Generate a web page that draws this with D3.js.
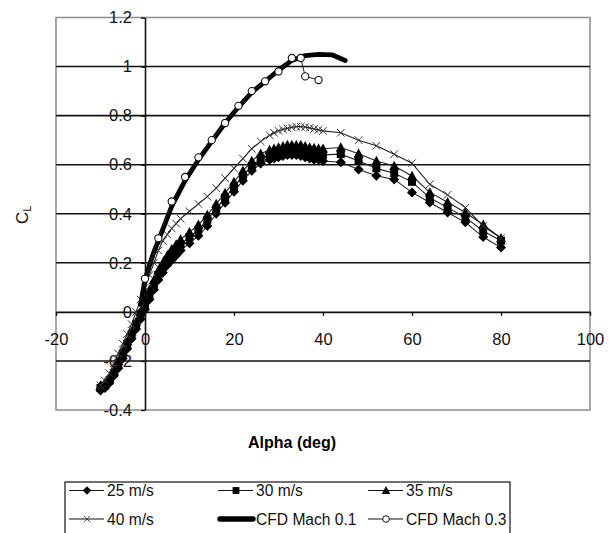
<!DOCTYPE html>
<html>
<head>
<meta charset="utf-8">
<script src="https://cdn.jsdelivr.net/npm/d3@7"></script>
<style>
  body { margin: 0; background: #fff; }
  svg { display: block; font-family: "Liberation Sans", Arial, sans-serif; }
</style>
</head>
<body>
<svg id="chart" width="614" height="533"></svg>
<script>
// angles de ensayo (compartidos por las 4 velocidades)
const alphaExp = [-10,-9,-8,-7,-6,-5,-4,-3,-2,-1,0,1,2,3,4,5,6,7,8,10,12,14,16,18,20,22,24,26,28,
  29,30,31,32,33,34,35,36,37,38,39,40,44,48,52,56,60,64,68,72,76,80];

const cl25 = [-0.32,-0.31,-0.29,-0.26,-0.23,-0.19,-0.15,-0.11,-0.07,-0.03,0.01,0.05,0.09,0.13,0.16,0.19,0.21,0.23,0.25,
  0.28,0.31,0.35,0.40,0.445,0.49,0.535,0.575,0.605,0.62,
  0.625,0.63,0.635,0.64,0.64,0.64,0.635,0.63,0.625,0.62,0.62,0.615,
  0.61,0.58,0.555,0.54,0.487,0.446,0.405,0.365,0.305,0.262];
const cl30 = [-0.31,-0.30,-0.28,-0.25,-0.21,-0.17,-0.13,-0.09,-0.05,-0.01,0.03,0.07,0.11,0.15,0.18,0.21,0.235,0.255,0.275,
  0.305,0.335,0.375,0.42,0.465,0.51,0.555,0.595,0.625,0.64,
  0.645,0.65,0.655,0.66,0.66,0.66,0.66,0.655,0.65,0.645,0.64,0.64,
  0.643,0.615,0.585,0.565,0.53,0.465,0.425,0.385,0.33,0.29];
const cl35 = [-0.30,-0.29,-0.27,-0.24,-0.20,-0.16,-0.12,-0.08,-0.04,0.00,0.05,0.09,0.13,0.17,0.20,0.23,0.255,0.275,0.295,
  0.325,0.355,0.395,0.44,0.485,0.53,0.575,0.615,0.645,0.66,
  0.665,0.67,0.675,0.68,0.68,0.68,0.68,0.675,0.67,0.668,0.666,0.665,
  0.67,0.645,0.615,0.595,0.554,0.487,0.447,0.405,0.355,0.30];
const cl40 = [-0.30,-0.28,-0.25,-0.21,-0.17,-0.13,-0.09,-0.05,0.00,0.05,0.10,0.15,0.20,0.25,0.29,0.315,0.34,0.36,0.38,
  0.41,0.44,0.47,0.505,0.545,0.585,0.625,0.665,0.695,0.72,
  0.73,0.738,0.744,0.748,0.752,0.755,0.755,0.753,0.75,0.746,0.742,0.738,
  0.73,0.70,0.677,0.643,0.606,0.52,0.477,0.425,0.35,0.30];

// CFD
const alphaM01 = [-1,0,1,2,3,6,9,12,15,18,21,24,27,30,33,36,39,42,45];
const clM01 = [0.03,0.13,0.19,0.245,0.29,0.43,0.535,0.62,0.695,0.77,0.835,0.895,0.94,0.985,1.025,1.045,1.05,1.048,1.025];
const alphaM03 = [0,3,6,9,12,15,18,21,24,27,30,33,35,36,39];
const clM03 = [0.135,0.30,0.45,0.55,0.63,0.70,0.77,0.84,0.90,0.94,0.98,1.035,1.035,0.96,0.945];

const xTicks = [-20,0,20,40,60,80,100];
const yTicks = [-0.4,-0.2,0,0.2,0.4,0.6,0.8,1,1.2];
const seriesNames = ["25 m/s","30 m/s","35 m/s","40 m/s","CFD Mach 0.1","CFD Mach 0.3"];

const svg = d3.select("#chart");
const x = d3.scaleLinear().domain([-20, 100]).range([56, 590]);
const y = d3.scaleLinear().domain([-0.4, 1.2]).range([410, 17.5]);

// marcadores tipo Excel
const marcas = {
  diamond: "M0,-5L5,0L0,5L-5,0Z",
  square: "M-4,-4H4V4H-4Z",
  triangle: "M0,-5.2L5,4H-5Z",
  cross: "M-3.8,-3.8L3.8,3.8M-3.8,3.8L3.8,-3.8"
};

// borde del area de trazado
svg.append("rect")
  .attr("x", x(-20)).attr("y", y(1.2))
  .attr("width", x(100) - x(-20)).attr("height", y(-0.4) - y(1.2))
  .attr("fill", "none").attr("stroke", "#8c8c8c").attr("stroke-width", 1.5);

// lineas de division
svg.append("g").selectAll("line")
  .data(yTicks.filter(d => d > -0.4 && d < 1.2 && d !== 0))
  .enter().append("line")
  .attr("x1", x(-20)).attr("x2", x(100))
  .attr("y1", d => y(d)).attr("y2", d => y(d))
  .attr("stroke", "#111").attr("stroke-width", 1.6);

const fmt = d => String(+d.toFixed(1));

const ejeY = svg.append("g")
  .attr("transform", `translate(${x(0)},0)`)
  .call(d3.axisLeft(y).tickValues(yTicks).tickFormat(fmt).tickSize(4).tickSizeOuter(0).tickPadding(9));
const ejeX = svg.append("g")
  .attr("transform", `translate(0,${y(0)})`)
  .call(d3.axisBottom(x).tickValues(xTicks).tickFormat(fmt).tickSize(4).tickSizeOuter(0).tickPadding(17));
[ejeY, ejeX].forEach(g => {
  g.select(".domain").attr("stroke", "#111").attr("stroke-width", 1.6);
  g.selectAll(".tick line").attr("stroke", "#111").attr("stroke-width", 1.4);
  g.selectAll(".tick text").attr("fill", "#111")
    .style("font-size", "16.5px").style("font-family", "'Liberation Sans', Arial, sans-serif");
});

// titulos de ejes
svg.append("text")
  .attr("x", 292).attr("y", 448)
  .attr("text-anchor", "middle")
  .style("font-size", "16px").style("font-weight", "bold")
  .text("Alpha (deg)");
const tituloY = svg.append("text")
  .attr("transform", "translate(28,224) rotate(-90)")
  .style("font-size", "17px").attr("fill", "#111");
tituloY.append("tspan").text("C");
tituloY.append("tspan").attr("dy", 3).style("font-size", "11px").text("L");

// series
const linea = d3.line().x(d => x(d[0])).y(d => y(d[1]));
const zip = (a, b) => a.map((v, i) => [v, b[i]]);

const exp = [
  { nombre: seriesNames[0], datos: zip(alphaExp, cl25), marca: "diamond" },
  { nombre: seriesNames[1], datos: zip(alphaExp, cl30), marca: "square" },
  { nombre: seriesNames[2], datos: zip(alphaExp, cl35), marca: "triangle" },
  { nombre: seriesNames[3], datos: zip(alphaExp, cl40), marca: "cross" }
];

exp.forEach(s => {
  const g = svg.append("g");
  g.append("path")
    .attr("d", linea(s.datos))
    .attr("fill", "none").attr("stroke", "#222").attr("stroke-width", 1.1);
  g.selectAll("path.m")
    .data(s.datos)
    .enter().append("path")
    .attr("class", "m")
    .attr("transform", d => `translate(${x(d[0])},${y(d[1])})`)
    .attr("d", marcas[s.marca])
    .attr("fill", s.marca === "cross" ? "none" : "#000")
    .attr("stroke", s.marca === "cross" ? "#333" : "none")
    .attr("stroke-width", 1);
});

svg.append("path")
  .attr("d", linea(zip(alphaM01, clM01)))
  .attr("fill", "none").attr("stroke", "#000").attr("stroke-width", 4.8)
  .attr("stroke-linecap", "round").attr("stroke-linejoin", "round");

const m03 = zip(alphaM03, clM03);
svg.append("path")
  .attr("d", linea(m03))
  .attr("fill", "none").attr("stroke", "#222").attr("stroke-width", 1);
svg.append("g").selectAll("circle")
  .data(m03)
  .enter().append("circle")
  .attr("cx", d => x(d[0])).attr("cy", d => y(d[1])).attr("r", 3.6)
  .attr("fill", "#fff").attr("stroke", "#111").attr("stroke-width", 1.1);

// leyenda
const ley = svg.append("g");
ley.append("rect")
  .attr("x", 65).attr("y", 482).attr("width", 445).attr("height", 70)
  .attr("fill", "#fff").attr("stroke", "#111").attr("stroke-width", 1.2);

const colX = [69, 218, 368];
const filaY = [490.5, 519];
const items = [
  { marca: "diamond" }, { marca: "square" }, { marca: "triangle" },
  { marca: "cross" }, { grueso: true }, { circulo: true }
];
items.forEach((it, i) => {
  const cx = colX[i % 3], cy = filaY[Math.floor(i / 3)];
  const g = ley.append("g").attr("transform", `translate(${cx},${cy})`);
  if (it.grueso) {
    g.append("line").attr("x1", 2).attr("x2", 35)
      .attr("stroke", "#000").attr("stroke-width", 5.5).attr("stroke-linecap", "round");
  } else {
    g.append("line").attr("x1", 0).attr("x2", 35)
      .attr("stroke", "#111").attr("stroke-width", 1.2);
  }
  if (it.marca) {
    g.append("path").attr("transform", "translate(18,0) scale(0.85)")
      .attr("d", marcas[it.marca])
      .attr("fill", it.marca === "cross" ? "none" : "#000")
      .attr("stroke", it.marca === "cross" ? "#333" : "none");
  }
  if (it.circulo) {
    g.append("circle").attr("cx", 18).attr("r", 3.3)
      .attr("fill", "#fff").attr("stroke", "#111");
  }
  g.append("text")
    .attr("x", 38).attr("y", 5.6)
    .style("font-size", "15.6px").attr("fill", "#111")
    .text(seriesNames[i]);
});
</script>
</body>
</html>
